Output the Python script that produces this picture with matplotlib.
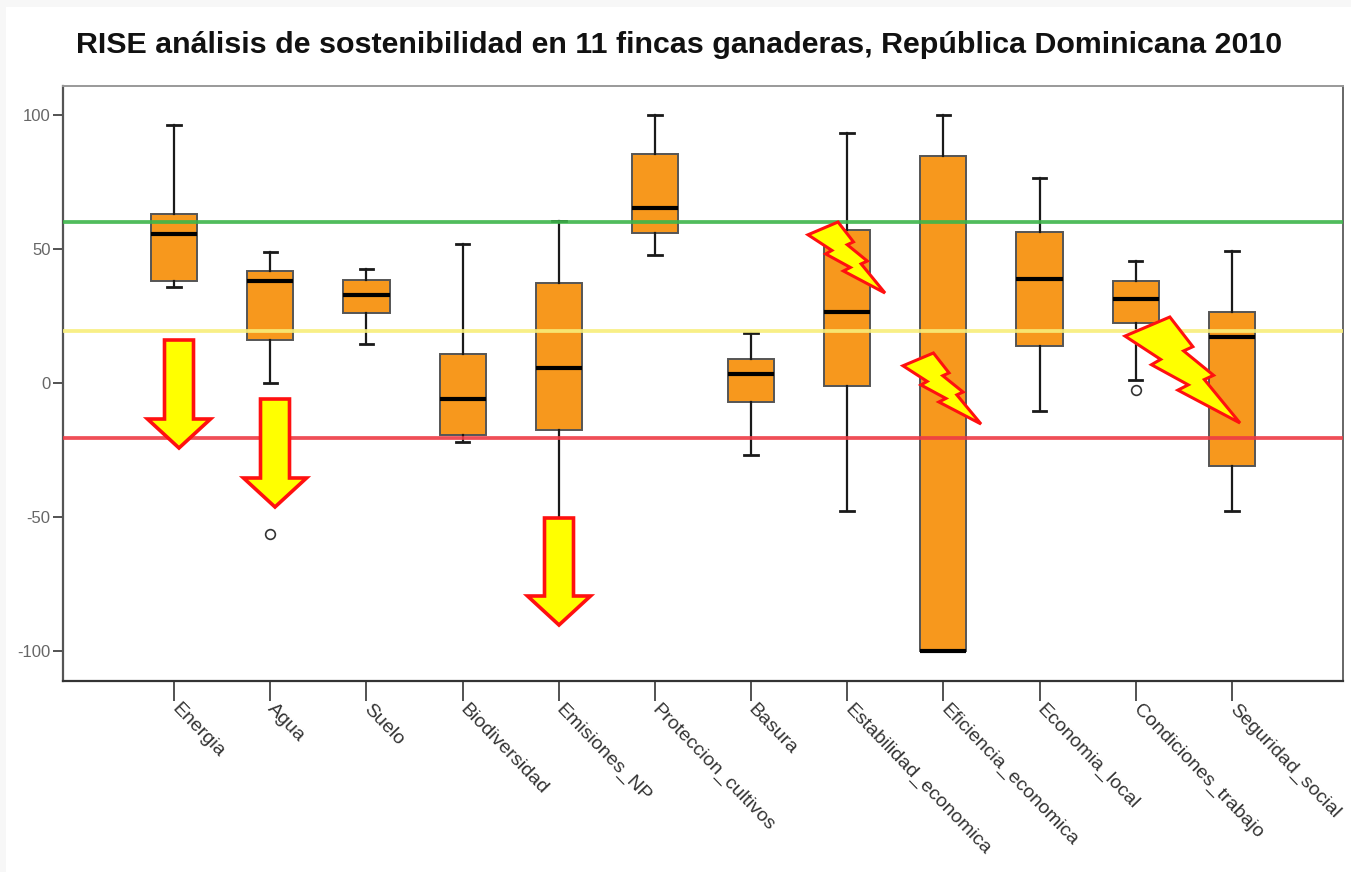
import matplotlib
matplotlib.use('Agg')
from matplotlib import pyplot as plt
from matplotlib.patches import Polygon, Rectangle
from matplotlib.transforms import IdentityTransform

plt.rcParams['font.family'] = ['Liberation Sans', 'DejaVu Sans']
plt.rcParams['axes.unicode_minus'] = False

W, H = 1351, 872

categorias = ['Energia', 'Agua', 'Suelo', 'Biodiversidad', 'Emisiones_NP',
              'Proteccion_cultivos', 'Basura', 'Estabilidad_economica',
              'Eficiencia_economica', 'Economia_local', 'Condiciones_trabajo',
              'Seguridad_social']

bigote_alto = [96.5, 49, 42.5, 52, 60.5, 100, 18.5, 93.5, 100, 76.5, 45.5, 49.5]
q3 = [63, 42, 38.5, 11, 37.5, 85.5, 9, 57, 85, 56.5, 38, 26.5]
mediana = [55.5, 38, 33, -6, 5.5, 65.5, 3.5, 26.5, -100, 39, 31.5, 17]
q1 = [38, 16, 26, -19.5, -17.5, 56, -7, -1, -100, 14, 22.5, -31]
bigote_bajo = [36, 0, 14.5, -22, -75, 48, -27, -48, -100, -10.5, 1, -48]
atipicos = [[], [-56.5], [], [], [], [], [], [], [], [], [-2.5], []]

# lineas de referencia: verde, amarillo, rojo
umbrales = [60, 19.5, -20.5]
colores_umbral = ['#3DB54A', '#F8EE7A', '#EE3B45']

# flechas (x centro, y arriba, y abajo) y rayos (x, y, ancho, alto) en pixeles
flechas = [(179, 340, 448), (275, 399, 507), (559, 518, 625)]
rayos = [(808, 222, 77, 71), (903, 353, 78, 71), (1125, 317, 115, 106)]
forma_rayo = [(0, .18), (.39, 0), (.59, .28), (.51, .32), (.77, .55), (.69, .59),
              (1, 1), (.46, .69), (.55, .64), (.23, .45), (.31, .40)]


def flecha(x, top, bottom):
    shaft = 14.5
    wing = 31.5
    shoulder = bottom - 29
    return [(x - shaft, top), (x + shaft, top), (x + shaft, shoulder), (x + wing, shoulder),
            (x, bottom), (x - wing, shoulder), (x - shaft, shoulder)]


def dibuja_forma(fig, puntos, grosor):
    pts = [(px, H - py) for px, py in puntos]
    fig.add_artist(Polygon(pts, closed=True, transform=IdentityTransform(), facecolor='#FFFF00',
                           edgecolor='#FF1010', linewidth=grosor, joinstyle='miter', zorder=10))


fig = plt.figure(figsize=(W / 100, H / 100), dpi=100, facecolor='#F7F7F7')
fig.add_artist(Rectangle((6 / W, 0), 1, (H - 7) / H, transform=fig.transFigure, facecolor='white',
                         edgecolor='none', zorder=-5))
ax = fig.add_axes([63 / W, (H - 681) / H, (1343 - 63) / W, (681 - 86) / H])

stats = []
for i in range(len(categorias)):
    stats.append({'label': categorias[i], 'whishi': bigote_alto[i], 'q3': q3[i], 'med': mediana[i],
                  'q1': q1[i], 'whislo': bigote_bajo[i], 'fliers': atipicos[i]})

ax.bxp(stats, positions=range(1, 13), widths=0.48, capwidths=0.14, patch_artist=True,
       boxprops=dict(facecolor='#F7981D', edgecolor='#555555', linewidth=1.4),
       medianprops=dict(color='black', linewidth=3, solid_capstyle='butt'),
       whiskerprops=dict(color='#1A1A1A', linewidth=1.6),
       capprops=dict(color='#1A1A1A', linewidth=2),
       flierprops=dict(marker='o', markerfacecolor='white', markeredgecolor='#333333',
                       markersize=7, markeredgewidth=1.2))

for valor, color in zip(umbrales, colores_umbral):
    ax.axhline(valor, color=color, linewidth=2.7, alpha=0.9, zorder=5)

ax.set_xlim(-0.156, 13.156)
ax.set_ylim(-111.4, 111)
ax.set_yticks([-100, -50, 0, 50, 100])
ax.set_xticks(range(1, 13))
ax.set_xticklabels(categorias, rotation=-46, ha='left', va='center', rotation_mode='anchor',
                   fontsize=14, color='#333333')
ax.tick_params(axis='x', length=14.4, width=1.3, color='#444444', pad=4)
ax.tick_params(axis='y', length=7, width=1.3, color='#444444', labelsize=12, labelcolor='#666666', pad=2)
ax.spines['left'].set(color='#555555', linewidth=1.6)
ax.spines['bottom'].set(color='#333333', linewidth=1.6)
ax.spines['top'].set(color='#999999', linewidth=1.4)
ax.spines['right'].set(color='#666666', linewidth=1.4)

fig.text(679 / W, (H - 45) / H, 'RISE análisis de sostenibilidad en 11 fincas ganaderas, República Dominicana 2010',
         ha='center', va='center', fontsize=21.9, fontweight='bold', color='#111111')

for x, top, bottom in flechas:
    dibuja_forma(fig, flecha(x, top, bottom), 2.6)
for x0, y0, ancho, alto in rayos:
    dibuja_forma(fig, [(x0 + a * ancho, y0 + b * alto) for a, b in forma_rayo], 2.2)

fig.savefig('out.png', dpi=100, facecolor=fig.get_facecolor())
